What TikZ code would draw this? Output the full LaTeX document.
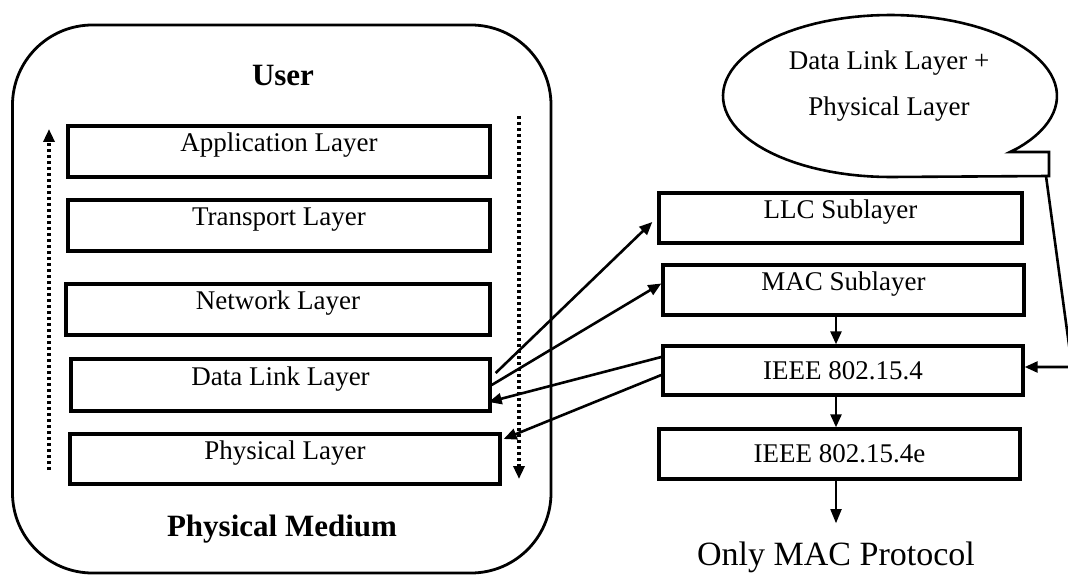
\documentclass[tikz,border=0pt]{standalone}
\usepackage{fontspec}
\setmainfont{Liberation Serif}
\usetikzlibrary{arrows.meta}
\begin{document}
\begin{tikzpicture}[x=1pt,y=-1pt,
  basebox/.style={draw, line width=3.4pt, inner sep=0pt, font=\fontsize{27}{32}\selectfont},
  layer/.style={basebox, text height=9pt, text depth=9pt},
  ieeebox/.style={basebox},
  lbl/.style={anchor=base, inner sep=0pt, font=\fontsize{27}{32}\selectfont},
  boldlbl/.style={anchor=base, inner sep=0pt, font=\fontsize{31}{36}\selectfont\bfseries},
  arr/.style={line width=2.6pt, -{Triangle[length=13pt,width=11pt]}},
  thinarr/.style={line width=1.8pt, -{Triangle[length=14pt,width=11pt]}},
  dotarr/.style={line width=3.2pt, dash pattern=on 3pt off 3pt, -{Triangle[length=13pt,width=11pt]}}
]
\clip (0,0) rectangle (1068,575);
\fill[white] (0,0) rectangle (1068,575);

% outer container
\draw[line width=2.8pt, rounded corners=80pt] (12.5,25) rectangle (551,573);
\node[boldlbl] (user) at (283,86) {User};
\node[boldlbl] (medium) at (282,536) {Physical Medium};

% left stack
\node[layer, minimum width=422pt, minimum height=51pt] (app) at (279,151.5) {Application Layer};
\node[layer, minimum width=422pt, minimum height=51pt] (trans) at (279,225.5) {Transport Layer};
\node[layer, minimum width=424pt, minimum height=51pt] (net) at (278,309.5) {Network Layer};
\node[layer, minimum width=419pt, minimum height=52pt] (dl) at (280.5,385) {Data Link Layer};
\node[layer, minimum width=430pt, minimum height=50pt] (phys) at (285,459) {Physical Layer};

% dotted arrows
\coordinate (upS) at (49,470);
\coordinate (upE) at (49,129);
\coordinate (dnS) at (519,116);
\coordinate (dnE) at (519,479);
\draw[dotarr] (upS) -- (upE);
\draw[dotarr] (dnS) -- (dnE);

% right stack
\node[layer, minimum width=363pt, minimum height=50pt] (llc) at (840.5,218) {LLC Sublayer};
\node[layer, minimum width=361pt, minimum height=50pt] (mac) at (843.5,290) {MAC Sublayer};
\node[ieeebox, minimum width=360pt, minimum height=49pt] (ieee) at (843,370.5) {IEEE 802.15.4};
\node[ieeebox, minimum width=361pt, minimum height=50pt] (ieeee) at (839.5,454) {IEEE 802.15.4e};
\node[anchor=base, inner sep=0pt, font=\fontsize{34}{40}\selectfont] (onlymac) at (836,565) {Only MAC Protocol};

\draw[arr] (mac.south -| onlymac) -- (ieee.north -| onlymac);
\draw[arr] (ieee.south -| onlymac) -- (ieeee.north -| onlymac);
\draw[thinarr, shorten >=18pt] (ieeee.south -| onlymac) -- (onlymac.north);

% crossing arrows
\draw[arr] ([xshift=4pt,yshift=12pt]dl.east) -- ([xshift=-5pt,yshift=-4pt]llc.west);
\draw[arr] (dl.east) -- ([yshift=6.5pt]mac.west);
\draw[arr] ([yshift=13.5pt]ieee.west) -- ([xshift=-3pt,yshift=-17pt]dl.east);
\draw[arr] ([yshift=-4.5pt]ieee.west) -- ([xshift=2pt,yshift=20pt]phys.east);

% callout
\draw[line width=2.6pt, line join=miter] plot[domain=90:400, samples=90, variable=\t] ({890+167*cos(\t)},{96+81*sin(\t)}) -- (1010,152) -- (1049,152) -- (1049,176) -- cycle;
\node[lbl] (cl1) at (889,70) {Data Link Layer +};
\node[lbl] (cl2) at (889,116) {Physical Layer};
\coordinate (cfoot) at (1046,176);
\coordinate (cturn) at (1072,367);
\draw[arr] (cfoot) -- (cturn) -- (cturn -| ieee.east);
\end{tikzpicture}
\end{document}
